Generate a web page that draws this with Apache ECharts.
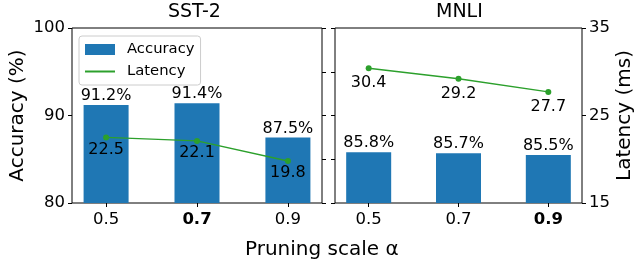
<!DOCTYPE html>
<html lang="en">
<head>
    <meta charset="utf-8">
    <title>Pruning scale</title>
    <script src="https://cdn.jsdelivr.net/npm/echarts@6/dist/echarts.min.js"></script>
    <style>
        html, body { margin: 0; padding: 0; background: #fff; }
        #main { width: 636px; height: 264px; }
    </style>
</head>
<body>
<div id="main"></div>
<script>
// data
var scales = ['0.5', '0.7', '0.9'];
var sstAcc = [91.2, 91.4, 87.5];
var sstLat = [22.5, 22.1, 19.8];
var mnliAcc = [85.8, 85.7, 85.5];
var mnliLat = [30.4, 29.2, 27.7];
var sstBold = 1;   // 0.7 is bold on SST-2
var mnliBold = 2;  // 0.9 is bold on MNLI

var FONT = 'DejaVu Sans';
var BLUE = '#1f77b4';
var GREEN = '#2ca02c';

function pts(arr) {
    return arr.map(function (v, i) { return [i, v]; });
}

function xAxisFor(gi, boldIdx) {
    return {
        type: 'value', gridIndex: gi, min: -0.375, max: 2.375,
        splitLine: { show: false },
        axisLine: { show: false, onZero: false },
        axisTick: { show: true, customValues: [0, 1, 2], length: 4, lineStyle: { color: '#000' } },
        axisLabel: {
            customValues: [0, 1, 2], margin: 8,
            fontFamily: FONT, fontSize: 16.5, color: '#000',
            formatter: function (v) {
                var i = Math.round(v);
                return i === boldIdx ? '{b|' + scales[i] + '}' : scales[i];
            },
            rich: { b: { fontFamily: FONT, fontSize: 16.5, fontWeight: 'bold', color: '#000' } }
        }
    };
}

var tickStyle = { show: true, length: 4, lineStyle: { color: '#000' } };
var noLine = { show: false, onZero: false };

var option = {
    animation: false,
    title: [
        { text: 'SST-2', left: 168, top: 3, padding: 0,
          textStyle: { fontFamily: FONT, fontSize: 19, fontWeight: 'normal', color: '#000' } },
        { text: 'MNLI', left: 436, top: 3, padding: 0,
          textStyle: { fontFamily: FONT, fontSize: 19, fontWeight: 'normal', color: '#000' } },
        { text: 'Pruning scale \u03b1', left: 245, top: 240, padding: 0,
          textStyle: { fontFamily: FONT, fontSize: 20, fontWeight: 'normal', color: '#000' } }
    ],
    legend: {
        left: 79, top: 36, orient: 'vertical',
        padding: [6, 6, 6, 6], itemGap: 7,
        itemWidth: 30, itemHeight: 11,
        borderColor: '#cccccc', borderWidth: 1, borderRadius: 3,
        backgroundColor: 'rgba(255,255,255,0.8)',
        textStyle: { fontFamily: FONT, fontSize: 14.8, color: '#000', lineHeight: 15, padding: [0, 0, 0, 7] },
        data: [
            { name: 'Accuracy', icon: 'rect' },
            { name: 'Latency', icon: 'path://M0,0 L30,0 L30,2 L0,2 Z' }
        ]
    },
    grid: [
        { left: 72, top: 28, width: 250, height: 175, show: true, borderColor: '#000', borderWidth: 1 },
        { left: 335, top: 28, width: 250, height: 175, show: true, borderColor: '#000', borderWidth: 1 }
    ],
    xAxis: [xAxisFor(0, sstBold), xAxisFor(1, mnliBold)],
    yAxis: [
        { type: 'value', gridIndex: 0, position: 'left', min: 80, max: 100, interval: 10,
          splitLine: { show: false }, axisLine: noLine, axisTick: tickStyle,
          axisLabel: { fontFamily: FONT, fontSize: 16.5, color: '#000', margin: 7 },
          name: 'Accuracy (%)', nameLocation: 'middle', nameGap: 44,
          nameTextStyle: { fontFamily: FONT, fontSize: 20, color: '#000' } },
        { type: 'value', gridIndex: 0, position: 'right', min: 15, max: 35, interval: 5,
          splitLine: { show: false }, axisLine: noLine, axisTick: tickStyle,
          axisLabel: { show: false } },
        { type: 'value', gridIndex: 1, position: 'left', min: 80, max: 100, interval: 5,
          splitLine: { show: false }, axisLine: noLine, axisTick: tickStyle,
          axisLabel: { show: false } },
        { type: 'value', gridIndex: 1, position: 'right', min: 15, max: 35,
          splitLine: { show: false }, axisLine: noLine,
          axisTick: { show: true, length: 4, customValues: [15, 25, 35], lineStyle: { color: '#000' } },
          axisLabel: { customValues: [15, 25, 35], fontFamily: FONT, fontSize: 16.5, color: '#000', margin: 7 },
          name: 'Latency (ms)', nameLocation: 'middle', nameGap: 33,
          nameTextStyle: { fontFamily: FONT, fontSize: 20, color: '#000' } }
    ],
    series: [
        { name: 'Accuracy', type: 'bar', xAxisIndex: 0, yAxisIndex: 0, data: pts(sstAcc),
          barWidth: 45, itemStyle: { color: BLUE },
          label: { show: true, position: 'top', distance: 1, fontFamily: FONT, fontSize: 16, color: '#000',
                   formatter: function (p) { return p.value[1].toFixed(1) + '%'; } } },
        { name: 'Latency', type: 'line', xAxisIndex: 0, yAxisIndex: 1, data: pts(sstLat), z: 5,
          symbol: 'circle', symbolSize: 6, itemStyle: { color: GREEN }, lineStyle: { color: GREEN, width: 1.5 },
          label: { show: true, position: 'bottom', distance: 1, fontFamily: FONT, fontSize: 16, color: '#000',
                   formatter: function (p) { return p.value[1].toFixed(1); } } },
        { name: 'Accuracy', type: 'bar', xAxisIndex: 1, yAxisIndex: 2, data: pts(mnliAcc),
          barWidth: 45, itemStyle: { color: BLUE },
          label: { show: true, position: 'top', distance: 1, fontFamily: FONT, fontSize: 16, color: '#000',
                   formatter: function (p) { return p.value[1].toFixed(1) + '%'; } } },
        { name: 'Latency', type: 'line', xAxisIndex: 1, yAxisIndex: 3, data: pts(mnliLat), z: 5,
          symbol: 'circle', symbolSize: 6, itemStyle: { color: GREEN }, lineStyle: { color: GREEN, width: 1.5 },
          label: { show: true, position: 'bottom', distance: 4, fontFamily: FONT, fontSize: 16, color: '#000',
                   formatter: function (p) { return p.value[1].toFixed(1); } } }
    ]
};

var myChart = echarts.init(document.getElementById('main'));
myChart.setOption(option);
</script>
</body>
</html>
